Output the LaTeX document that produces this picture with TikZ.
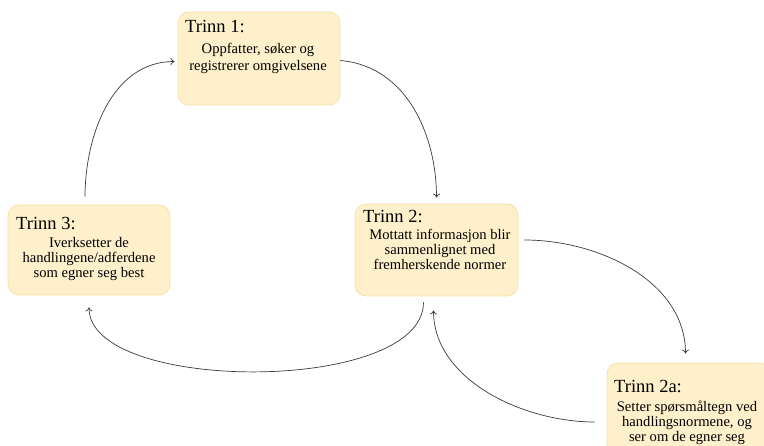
\documentclass[tikz,border=0pt]{standalone}
\usepackage{fontspec}
\setmainfont{Liberation Serif}
\usetikzlibrary{arrows.meta}

\definecolor{stagefill}{HTML}{FEF0CB}
\definecolor{stageline}{HTML}{F8E2A6}
\definecolor{linkgray}{HTML}{3A3A3A}

\tikzset{
    stage/.style={draw=stageline, fill=stagefill, line width=0.8pt, rounded corners=11pt, inner sep=0pt},
    stagetitle/.style={anchor=base west, inner sep=0pt, font=\fontsize{18.5}{20}\selectfont},
    stagetext/.style={anchor=base, inner sep=0pt, align=center, font=\fontsize{14.6}{15.4}\selectfont},
    link/.style={draw=linkgray, line width=0.7pt, -{To[length=4pt,width=7pt]}},
}

\begin{document}
\begin{tikzpicture}[x=1pt,y=1pt]
    \useasboundingbox (0,0) rectangle (764,-446);
    % boxes
    \node[stage, minimum width=162pt, minimum height=93pt] (S1) at (259,-58.5) {};
    \node[stage, minimum width=162pt, minimum height=90pt] (S3) at (89,-250) {};
    \node[stage, minimum width=163pt, minimum height=92pt] (S2) at (436.5,-250) {};
    \node[stage, minimum width=163pt, minimum height=92pt] (S2a) at (688.5,-409) {};
    % titles
    \node[stagetitle] (T1) at (185,-33) {Trinn 1:};
    \node[stagetitle] (T3) at (16,-230) {Trinn 3:};
    \node[stagetitle] (T2) at (363,-223) {Trinn 2:};
    \node[stagetitle] (T2a) at (614,-393) {Trinn 2a:};
    % texts (base = last line)
    \node[stagetext, font=\fontsize{14.6}{17}\selectfont] (B1) at (258,-71) {Oppfatter, søker og\\registrerer omgivelsene};
    \node[stagetext] (B3) at (89,-278) {Iverksetter de\\handlingene/adferdene\\som egner seg best};
    \node[stagetext] (B2) at (440,-270) {Mottatt informasjon blir\\sammenlignet med\\fremherskende normer};
    \node[stagetext] (B2a) at (687,-442) {Setter spørsmåltegn ved\\handlingsnormene, og\\ser om de egner seg};
    % connectors
    \draw[link, shorten <=8pt, shorten >=3pt] ([xshift=-4pt]S3.north) to[out=90, in=180] ([yshift=-3pt]S1.west);
    \draw[link, shorten >=6pt] ([yshift=-2pt]S1.east) to[out=-5, in=90] (S2.north);
    \draw[link, shorten <=6pt, shorten >=9pt] ([yshift=10pt]S2.east) to[out=0, in=90] ([xshift=-3pt]S2a.north);
    \draw[link, shorten <=12pt, shorten >=14pt] ([yshift=-13pt]S2a.west) to[out=180, in=-90] ([xshift=-3pt]S2.south);
    \draw[link, shorten <=6pt, shorten >=12pt] ([xshift=-13pt]S2.south) to[out=-90, in=-90, looseness=0.75] (S3.south);
\end{tikzpicture}
\end{document}
